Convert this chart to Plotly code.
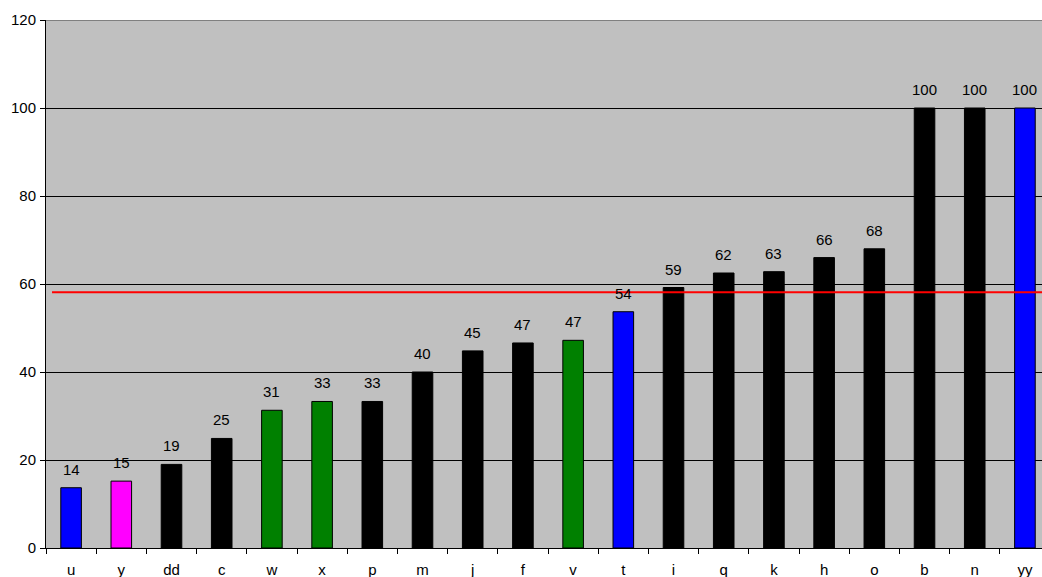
import plotly.graph_objects as go

categories = ["u", "y", "dd", "c", "w", "x", "p", "m", "j", "f",
              "v", "t", "i", "q", "k", "h", "o", "b", "n", "yy"]
values = [13.7, 15.2, 19.0, 24.9, 31.3, 33.3, 33.3, 40.0, 44.8, 46.6,
          47.2, 53.7, 59.2, 62.5, 62.8, 66.0, 68.0, 100.0, 100.0, 100.0]
bar_colors = ["#0000FF", "#FF00FF", "#000000", "#000000", "#008000", "#008000",
              "#000000", "#000000", "#000000", "#000000", "#008000", "#0000FF",
              "#000000", "#000000", "#000000", "#000000", "#000000", "#000000",
              "#000000", "#0000FF"]
threshold = 58.1
y_ticks = [0, 20, 40, 60, 80, 100, 120]

FONT = "Liberation Sans, Arial, sans-serif"

fig = go.Figure()
fig.add_trace(go.Bar(
    x=categories, y=values,
    marker=dict(color=bar_colors, line=dict(color="#000000", width=1)),
    width=0.41,
    hoverinfo="x+y",
))

for c, v in zip(categories, values):
    fig.add_annotation(x=c, y=v, text=f"{round(v)}", showarrow=False,
                       yanchor="bottom", yshift=8,
                       font=dict(family=FONT, size=15, color="#000000"))

# red reference line
fig.add_shape(type="line", xref="x", yref="y",
              x0=-0.38, x1=19.9, y0=threshold, y1=threshold,
              line=dict(color="#FF0000", width=2))
# top border of the plot area
fig.add_shape(type="line", xref="paper", yref="y",
              x0=0, x1=1, y0=120, y1=120,
              line=dict(color="#808080", width=2))

fig.update_layout(
    width=1042, height=577,
    margin=dict(l=46, r=0, t=20, b=29),
    paper_bgcolor="#FFFFFF",
    plot_bgcolor="#C0C0C0",
    showlegend=False,
    font=dict(family=FONT, size=15, color="#000000"),
)
fig.update_xaxes(
    type="category", range=[-0.5, 19.34], automargin=False,
    tickson="boundaries", ticks="outside", ticklen=5, tickcolor="#000000",
    showline=True, linecolor="#000000", linewidth=1,
    showgrid=False, tickfont=dict(size=15, family=FONT),
    ticklabelstandoff=8,
)
fig.update_yaxes(
    range=[0, 120], tickvals=y_ticks, automargin=False,
    ticks="outside", ticklen=5, tickcolor="#000000",
    showline=True, linecolor="#000000", linewidth=1,
    showgrid=True, gridcolor="#000000", gridwidth=1,
    zeroline=False, tickfont=dict(size=15, family=FONT),
    ticklabelstandoff=1,
)

fig.write_html("out.html",
               config={"displayModeBar": False},
               post_script="document.body.style.margin='0';"
                           "document.body.style.overflow='hidden';")
